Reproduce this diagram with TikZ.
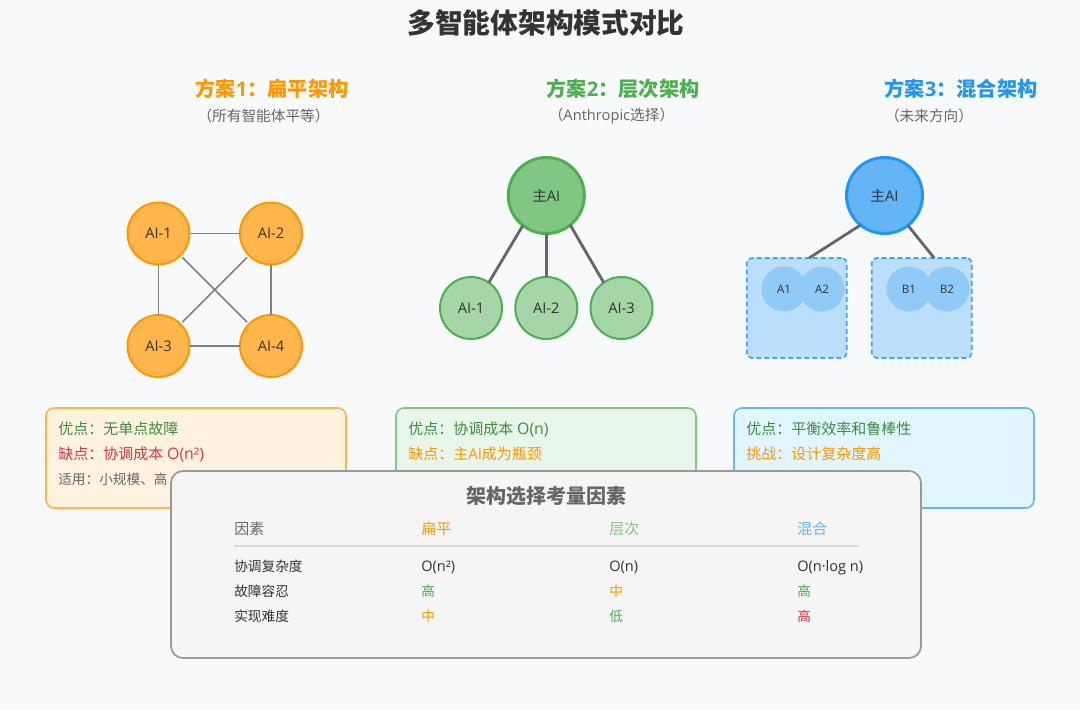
\documentclass[tikz,border=0pt]{standalone}
\usepackage{fontspec}
\setmainfont{Open Sans}
\newfontfamily\cjk{Noto Sans CJK SC}
\newcommand{\cj}[1]{{\cjk #1}}
\newcommand{\lab}[1]{\raisebox{-1.2pt}{#1}}
\newcommand{\latr}[1]{{\fontsize{10.9}{12}\selectfont #1}}
\newcommand{\lati}[1]{{\fontsize{11.9}{13}\selectfont #1}}
\definecolor{bgc}{HTML}{F8F9FA}
\definecolor{org}{HTML}{FF9800}
\definecolor{orgf}{HTML}{FFB74D}
\definecolor{orgb}{HTML}{FFF3E0}
\definecolor{grn}{HTML}{4CAF50}
\definecolor{grnf}{HTML}{81C784}
\definecolor{grnl}{HTML}{A5D6A7}
\definecolor{grnb}{HTML}{E8F5E9}
\definecolor{blu}{HTML}{2196F3}
\definecolor{bluf}{HTML}{64B5F6}
\definecolor{blul}{HTML}{90CAF9}
\definecolor{blub}{HTML}{BBDEFB}
\definecolor{bluc2}{HTML}{E1F5FE}
\definecolor{dash2}{HTML}{42A5F5}
\definecolor{redt}{HTML}{DC3545}
\definecolor{txt}{HTML}{333333}
\definecolor{sub}{HTML}{666666}
\tikzset{
  px/.style={x=0.75pt,y=-0.75pt},
  circ/.style={circle,inner sep=0pt,outer sep=0pt,line width=1.5pt,text=txt,font=\fontsize{11}{13}\selectfont},
  orgc/.style={circ,draw=org,fill=orgf,minimum size=46.5pt},
  grnm/.style={circ,draw=grn,fill=grnf,line width=2.25pt,minimum size=57pt},
  grnc/.style={circ,draw=grn,fill=grnl,minimum size=46.5pt},
  blum/.style={circ,draw=blu,fill=bluf,line width=2.25pt,minimum size=57pt},
  bluc/.style={circle,inner sep=0pt,outer sep=0pt,fill=blul,minimum size=33.75pt,text=txt,font=\fontsize{8.7}{10}\selectfont},
  grp/.style={rectangle,rounded corners=3.75pt,inner sep=0pt,outer sep=0pt,draw=dash2,fill=blub,line width=1.3pt,dash pattern=on 3.75pt off 2.25pt,minimum size=75pt},
  thin link/.style={draw=black!50,line width=1.1pt},
  thick link/.style={draw=black!60,line width=2.1pt},
  info/.style={rectangle,rounded corners=6pt,inner sep=0pt,outer sep=0pt,line width=1.2pt,minimum width=225pt,minimum height=75pt},
  ttl/.style={inner sep=0pt,font=\fontsize{15.15}{18}\selectfont\bfseries},
  subt/.style={inner sep=0pt,text=sub,font=\fontsize{11}{13}\selectfont},
  lt/.style={inner sep=0pt,anchor=base west,font=\fontsize{11.25}{13}\selectfont},
  ls/.style={inner sep=0pt,anchor=base west,font=\fontsize{10.25}{12}\selectfont},
}
\begin{document}
\begin{tikzpicture}[px]
\useasboundingbox[fill=bgc] (0,0) rectangle (1080,710);
\node[inner sep=0pt,text=txt,font=\fontsize{20.8}{25}\selectfont\bfseries\cjk] (title) at (546,22.7) {多智能体架构模式对比};
% headings
\node[ttl,text=org] (h1) at (272,88.5) {\cj{方案}1\cj{：扁平架构}};
\node[subt] (s1) at (263.5,115.5) {\cj{（所有智能体平等）}};
\node[ttl,text=grn] (h2) at (623,88.5) {\cj{方案}2\cj{：层次架构}};
\node[subt] (s2) at (611.5,115.5) {\cj{（}Anthropic\cj{选择）}};
\node[ttl,text=blu] (h3) at (961,88.5) {\cj{方案}3\cj{：混合架构}};
\node[subt] (s3) at (929,115.5) {\cj{（未来方向）}};
% flat
\node[orgc] (f1) at (158.5,233.5) {\lab{AI-1}};
\node[orgc] (f2) at (271,233.5) {\lab{AI-2}};
\node[orgc] (f3) at (158.5,346) {\lab{AI-3}};
\node[orgc] (f4) at (271,346) {\lab{AI-4}};
\draw[thin link] (f1) -- (f2);
\draw[thin link] (f3) -- (f4);
\draw[thin link] (f1) -- (f3);
\draw[thin link] (f2) -- (f4);
\draw[thin link,shorten >=2pt,shorten <=2pt] (f1) -- (f4);
\draw[thin link,shorten >=2pt,shorten <=2pt] (f2) -- (f3);
% hierarchy
\node[grnm] (hm) at (546.3,195.5) {\lab{\cj{主}AI}};
\node[grnc] (h1c) at (471,308) {\lab{AI-1}};
\node[grnc] (h2c) at (546.3,308) {\lab{AI-2}};
\node[grnc] (h3c) at (621.5,308) {\lab{AI-3}};
\draw[thick link] (hm.232) -- (h1c.55);
\draw[thick link] (hm.270) -- (h2c.90);
\draw[thick link] (hm.-51) -- (h3c.125);
% hybrid
\node[blum] (bm) at (884.5,195.5) {\lab{\cj{主}AI}};
\node[grp] (ga) at (796.7,308) {};
\node[grp] (gb) at (921.7,308) {};
\node[bluc] (a1) at (784,289) {\lab{A1}};
\node[bluc] (a2) at (822,289) {\lab{A2}};
\node[bluc] (b1) at (909,289) {\lab{B1}};
\node[bluc] (b2) at (947,289) {\lab{B2}};
\draw[thick link] (bm.231.6) -- (ga.76);
\draw[thick link] (bm.308) -- (gb.76);
% info boxes
\node[info,draw=orgf,fill=orgb] (i1) at (196,458) {};
\node[info,draw=grnf,fill=grnb] (i2) at (546,458) {};
\node[info,draw=bluf,fill=bluc2] (i3) at (884,458) {};
\node[lt,text=grn!80!black] (i1a) at (58,434) {\cj{优点：无单点故障}};
\node[lt,text=redt] (i1b) at (58,459) {\cj{缺点：协调成本} \lati{O(n²)}};
\node[ls,text=sub] (i1c) at (58,484) {\cj{适用：小规模、高}};
\node[lt,text=grn!80!black] (i2a) at (408,434) {\cj{优点：协调成本} \lati{O(n)}};
\node[lt,text=org] (i2b) at (408,459) {\cj{缺点：主}AI\cj{成为瓶颈}};
\node[lt,text=grn!80!black] (i3a) at (746,434) {\cj{优点：平衡效率和鲁棒性}};
\node[lt,text=org] (i3b) at (746,459) {\cj{挑战：设计复杂度高}};
% table
\node[rectangle,rounded corners=9pt,inner sep=0pt,outer sep=0pt,draw=black!40,fill=black!4,line width=1.3pt,minimum width=562.5pt,minimum height=140.25pt] (tb) at (546,564.5) {};
\node[inner sep=0pt,text=sub,font=\fontsize{15}{18}\selectfont\bfseries\cjk] (tt) at (546.5,496) {架构选择考量因素};
\node[lt,text=sub] (c0) at (234,534) {\cj{因素}};
\node[lt,text=org] (c1) at (421,534) {\cj{扁平}};
\node[lt,text=grnf] (c2) at (609,534) {\cj{层次}};
\node[lt,text=bluf] (c3) at (797,534) {\cj{混合}};
\coordinate (ra) at (234,546);
\coordinate (rb) at (859,546);
\draw[draw=black!15,line width=1.1pt] (ra) -- (rb);
\node[ls,text=txt] (r1) at (234,571) {\cj{协调复杂度}};
\node[ls,text=txt] (r1a) at (421,571) {\latr{O(n²)}};
\node[ls,text=txt] (r1b) at (609,571) {\latr{O(n)}};
\node[ls,text=txt] (r1c) at (797,571) {\latr{O(n·log n)}};
\node[ls,text=txt] (r2) at (234,596) {\cj{故障容忍}};
\node[ls,text=grn] (r2a) at (421,596) {\cj{高}};
\node[ls,text=org] (r2b) at (609,596) {\cj{中}};
\node[ls,text=grn] (r2c) at (797,596) {\cj{高}};
\node[ls,text=txt] (r3) at (234,621) {\cj{实现难度}};
\node[ls,text=org] (r3a) at (421,621) {\cj{中}};
\node[ls,text=grn] (r3b) at (609,621) {\cj{低}};
\node[ls,text=redt] (r3c) at (797,621) {\cj{高}};
\end{tikzpicture}
\end{document}
